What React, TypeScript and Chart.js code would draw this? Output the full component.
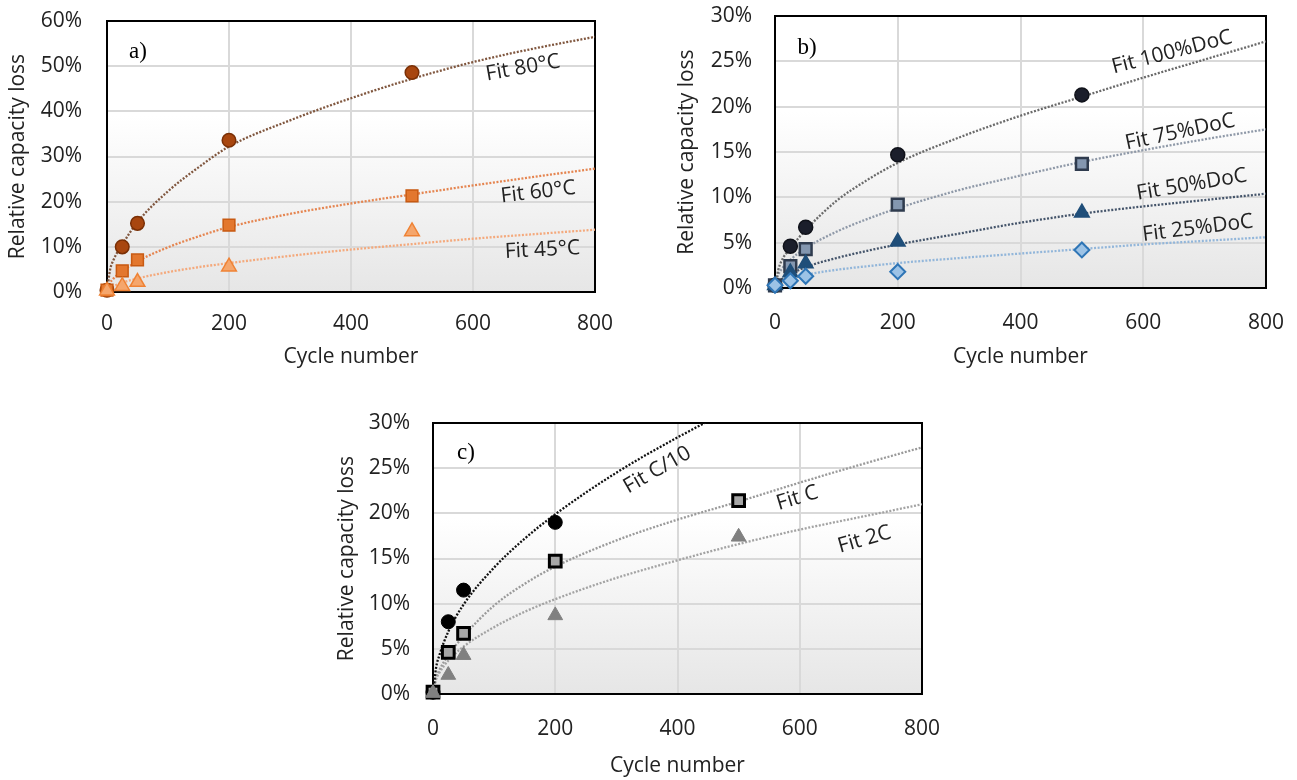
import React, { useEffect, useRef } from 'react';
import { Chart, registerables } from 'chart.js';

Chart.register(...registerables);

// ---------- shared ----------
const fitCycles = [0, 5, 10, 25, 50, 100, 150, 200, 300, 400, 500, 600, 700, 800];
const xTickStep = 200;

// ---------- panel a) temperature ----------
const cyclesA = [0, 25, 50, 200, 500];
const loss80C = [0.4, 10.0, 15.2, 33.6, 48.6];
const loss60C = [0.4, 4.7, 7.1, 14.8, 21.3];
const loss45C = [0.3, 1.3, 2.2, 5.6, 13.4];
const fit80C = [0, 4.9, 6.9, 10.5, 15.5, 22.3, 27.6, 32.2, 38.0, 42.9, 47.2, 50.9, 53.9, 56.5];
const fit60C = [0, 2.0, 2.9, 4.6, 6.8, 9.9, 12.3, 14.4, 17.3, 19.6, 21.6, 23.6, 25.5, 27.3];
const fit45C = [0, 0.85, 1.25, 2.05, 3.0, 4.4, 5.5, 6.4, 8.0, 9.4, 10.6, 11.8, 12.8, 13.8];

// ---------- panel b) depth of cycle ----------
const cyclesB = [0, 25, 50, 200, 500];
const loss100DoC = [0.3, 4.6, 6.7, 14.7, 21.3];
const loss75DoC = [0.3, 2.4, 4.3, 9.2, 13.7];
const loss50DoC = [0.3, 1.7, 2.7, 5.1, 8.3];
const loss25DoC = [0.3, 0.8, 1.3, 1.8, 4.2];
const fit100DoC = [0, 1.9, 2.9, 4.4, 6.4, 9.6, 11.9, 13.8, 16.6, 19.0, 21.1, 23.2, 25.2, 27.2];
const fit75DoC = [0, 1.4, 2.0, 3.1, 4.4, 6.2, 7.6, 8.8, 10.8, 12.4, 13.9, 15.2, 16.4, 17.5];
const fit50DoC = [0, 0.6, 0.9, 1.5, 2.3, 3.3, 4.1, 4.8, 6.0, 7.2, 8.2, 9.0, 9.7, 10.4];
const fit25DoC = [0, 0.45, 0.65, 1.0, 1.45, 2.0, 2.4, 2.75, 3.3, 3.8, 4.3, 4.8, 5.2, 5.6];

// ---------- panel c) C-rate ----------
const cyclesC10 = [0, 25, 50, 200];
const cyclesC = [0, 25, 50, 200, 500];
const lossC10 = [0.2, 8.0, 11.5, 19.0];
const lossC1 = [0.2, 4.6, 6.7, 14.7, 21.4];
const lossC2 = [0.1, 2.1, 4.3, 8.7, 17.4];
const fitC10 = [0, 2.9, 4.2, 6.9, 9.9, 14.0, 17.2, 19.9, 24.5, 28.4, 31.9, 35.0, 38.0, 40.7];
const fitC1 = [0, 1.8, 2.6, 4.3, 6.4, 9.8, 12.2, 14.1, 17.0, 19.3, 21.3, 23.4, 25.4, 27.3];
const fitC2 = [0, 1.6, 2.3, 3.7, 5.25, 7.4, 9.1, 10.5, 12.85, 14.8, 16.6, 18.2, 19.6, 21.0];

// ---------- text ----------
const yTitle = 'Relative capacity loss';
const xTitle = 'Cycle number';

const toPts = (xs: number[], ys: number[]) => xs.map((x, i) => ({ x, y: ys[i] }));

const FONT = 'Open Sans';
const TEXT = '#222222';

const decorPlugin = {
  id: 'decor',
  beforeDraw(chart: any) {
    const { ctx, chartArea: a } = chart;
    const g = ctx.createLinearGradient(0, a.top, 0, a.bottom);
    g.addColorStop(0, '#ffffff');
    g.addColorStop(0.35, '#ffffff');
    g.addColorStop(1, '#e6e6e6');
    ctx.save();
    ctx.fillStyle = g;
    ctx.fillRect(a.left, a.top, a.right - a.left, a.bottom - a.top);
    ctx.restore();
  },
  beforeDatasetsDraw(chart: any, _args: any, opts: any) {
    const { ctx, chartArea: a, scales } = chart;
    ctx.save();
    ctx.strokeStyle = '#000';
    ctx.lineWidth = 2;
    ctx.strokeRect(a.left, a.top, a.right - a.left, a.bottom - a.top);
    ctx.fillStyle = TEXT;
    ctx.font = `21px "${FONT}"`;
    ctx.textAlign = 'center';
    ctx.textBaseline = 'middle';
    (opts.labels || []).forEach((l: any) => {
      const px = scales.x.getPixelForValue(l.x);
      const py = scales.y.getPixelForValue(l.y);
      ctx.save();
      ctx.translate(px, py);
      ctx.rotate((l.angle * Math.PI) / 180);
      ctx.fillText(l.text, 0, 0);
      ctx.restore();
    });
    ctx.fillStyle = '#000';
    ctx.font = '23px "Liberation Serif"';
    ctx.fillText(opts.tag, a.left + opts.tagDx, a.top + opts.tagDy);
    ctx.restore();
  },
};

type Series = {
  xs: number[];
  ys: number[];
  style: string;
  radius: number;
  fill: string;
  border: string;
  bw: number;
};
type Fit = { ys: number[]; color: string };

type PanelProps = {
  box: any;
  series: Series[];
  fits: Fit[];
  labels: any[];
};

function Panel({ box, series, fits, labels }: PanelProps) {
  const ref = useRef<HTMLCanvasElement>(null);
  useEffect(() => {
    if (!ref.current) return;
    const datasets: any[] = [];
    fits.forEach((f) =>
      datasets.push({
        type: 'line',
        data: toPts(fitCycles, f.ys),
        borderColor: f.color,
        borderWidth: 2.3,
        borderDash: [2, 1.6],
        pointRadius: 0,
        showLine: true,
        fill: false,
        cubicInterpolationMode: 'monotone',
        clip: 0,
        order: 10,
      })
    );
    series.forEach((s) =>
      datasets.push({
        type: 'scatter',
        data: toPts(s.xs, s.ys),
        pointStyle: s.style,
        pointRadius: s.radius,
        pointBackgroundColor: s.fill,
        pointBorderColor: s.border,
        pointBorderWidth: s.bw,
        showLine: false,
        clip: false,
        order: 1,
      })
    );
    const tickFont = { family: FONT, size: 21 };
    const chart = new Chart(ref.current, {
      type: 'scatter',
      data: { datasets },
      plugins: [decorPlugin],
      options: {
        animation: false,
        responsive: false,
        devicePixelRatio: 1,
        events: [],
        layout: { padding: { left: box.padL, top: box.padT, right: box.padR, bottom: 0 } },
        plugins: {
          legend: { display: false },
          tooltip: { enabled: false },
          decor: { labels, tag: box.tag, tagDx: box.tagDx, tagDy: box.tagDy },
        } as any,
        scales: {
          x: {
            type: 'linear',
            min: 0,
            max: 800,
            ticks: { stepSize: xTickStep, padding: box.xTickPad, color: TEXT, font: tickFont },
            grid: { color: '#d9d9d9', lineWidth: 2, drawTicks: false },
            border: { display: false },
            title: {
              display: true,
              text: xTitle,
              color: TEXT,
              font: tickFont,
              padding: { top: 4, bottom: box.xTitlePad },
            },
            afterFit: (s: any) => {
              s.height = box.xHeight;
              s.paddingLeft = 0;
              s.paddingRight = 0;
              s.paddingTop = 0;
              s.paddingBottom = 0;
            },
          },
          y: {
            type: 'linear',
            min: 0,
            max: box.yMax,
            ticks: {
              stepSize: box.yStep,
              padding: box.yTickPad,
              color: TEXT,
              font: tickFont,
              callback: (v: any) => `${v}%`,
            },
            grid: { color: '#d9d9d9', lineWidth: 2, drawTicks: false },
            border: { display: false },
            title: {
              display: true,
              text: yTitle,
              color: TEXT,
              font: tickFont,
              padding: { top: 4, bottom: 4 },
            },
            afterFit: (s: any) => {
              s.width = box.yWidth;
              s.paddingLeft = 0;
              s.paddingRight = 0;
              s.paddingTop = 0;
              s.paddingBottom = 0;
            },
          },
        },
      } as any,
    });
    return () => chart.destroy();
  }, []);
  return (
    <div style={{ position: 'absolute', left: box.left, top: box.top, width: box.width, height: box.height }}>
      <canvas ref={ref} width={box.width} height={box.height} style={{ width: box.width, height: box.height, display: 'block' }} />
    </div>
  );
}

const boxA = {
  left: 0, top: 0, width: 640, height: 380,
  padL: 1, padT: 21, padR: 45, yWidth: 106, xHeight: 88,
  yTickPad: 25, xTickPad: 19, xTitlePad: 10, yMax: 60, yStep: 10,
  tag: 'a)', tagDx: 31, tagDy: 31,
};
const boxB = {
  left: 660, top: 0, width: 637, height: 380,
  padL: 10, padT: 16, padR: 31, yWidth: 105, xHeight: 92,
  yTickPad: 23, xTickPad: 22, xTitlePad: 10, yMax: 30, yStep: 5,
  tag: 'b)', tagDx: 32, tagDy: 32,
};
const boxC = {
  left: 320, top: 400, width: 620, height: 380,
  padL: 10, padT: 23, padR: 18, yWidth: 103, xHeight: 86,
  yTickPad: 23, xTickPad: 22, xTitlePad: 1, yMax: 30, yStep: 5,
  tag: 'c)', tagDx: 33, tagDy: 30,
};

const labelsA = [
  { text: 'Fit 80°C', x: 682, y: 49.6, angle: -10 },
  { text: 'Fit 60°C', x: 707, y: 22.1, angle: -6.5 },
  { text: 'Fit 45°C', x: 714, y: 9.3, angle: -3 },
];
const labelsB = [
  { text: 'Fit 100%DoC', x: 647, y: 26.0, angle: -14.5 },
  { text: 'Fit 75%DoC', x: 660, y: 17.2, angle: -12 },
  { text: 'Fit 50%DoC', x: 679, y: 11.4, angle: -9.5 },
  { text: 'Fit 25%DoC', x: 689, y: 6.6, angle: -7 },
];
const labelsC = [
  { text: 'Fit C/10', x: 367, y: 24.8, angle: -30 },
  { text: 'Fit C', x: 596, y: 21.7, angle: -17 },
  { text: 'Fit 2C', x: 706, y: 17.1, angle: -16 },
];

export default function App() {
  const seriesA: Series[] = [
    { xs: cyclesA, ys: loss45C, style: 'triangle', radius: 8.5, fill: '#f5a66c', border: '#ef8234', bw: 1.5 },
    { xs: cyclesA, ys: loss60C, style: 'rect', radius: 8.3, fill: '#e3772e', border: '#c85a12', bw: 1.5 },
    { xs: cyclesA, ys: loss80C, style: 'circle', radius: 6.8, fill: '#a8460f', border: '#7a2f05', bw: 1.5 },
  ];
  const fitsA: Fit[] = [
    { ys: fit80C, color: '#80573f' },
    { ys: fit60C, color: '#e58550' },
    { ys: fit45C, color: '#f4a97c' },
  ];
  const seriesB: Series[] = [
    { xs: cyclesB, ys: loss25DoC, style: 'rectRot', radius: 7.5, fill: '#9dc3e6', border: '#2e75b6', bw: 2 },
    { xs: cyclesB, ys: loss50DoC, style: 'triangle', radius: 8.5, fill: '#1f4e79', border: '#1f4e79', bw: 1.5 },
    { xs: cyclesB, ys: loss75DoC, style: 'rect', radius: 8.3, fill: '#8497b0', border: '#2f3b4e', bw: 2.5 },
    { xs: cyclesB, ys: loss100DoC, style: 'circle', radius: 7, fill: '#1b1e2b', border: '#10121a', bw: 1.5 },
  ];
  const fitsB: Fit[] = [
    { ys: fit100DoC, color: '#6a6a6a' },
    { ys: fit75DoC, color: '#8f99a8' },
    { ys: fit50DoC, color: '#44546a' },
    { ys: fit25DoC, color: '#92b6da' },
  ];
  const seriesC: Series[] = [
    { xs: cyclesC, ys: lossC2, style: 'triangle', radius: 8.5, fill: '#808080', border: '#808080', bw: 1 },
    { xs: cyclesC, ys: lossC1, style: 'rect', radius: 8.3, fill: '#a6a6a6', border: '#000000', bw: 3 },
    { xs: cyclesC10, ys: lossC10, style: 'circle', radius: 7, fill: '#000000', border: '#000000', bw: 1 },
  ];
  const fitsC: Fit[] = [
    { ys: fitC10, color: '#111111' },
    { ys: fitC1, color: '#9a9a9a' },
    { ys: fitC2, color: '#a3a3a3' },
  ];
  return (
    <div style={{ position: 'absolute', left: 0, top: 0, width: 1297, height: 780, background: '#fff' }}>
      <Panel box={boxA} series={seriesA} fits={fitsA} labels={labelsA} />
      <Panel box={boxB} series={seriesB} fits={fitsB} labels={labelsB} />
      <Panel box={boxC} series={seriesC} fits={fitsC} labels={labelsC} />
    </div>
  );
}
